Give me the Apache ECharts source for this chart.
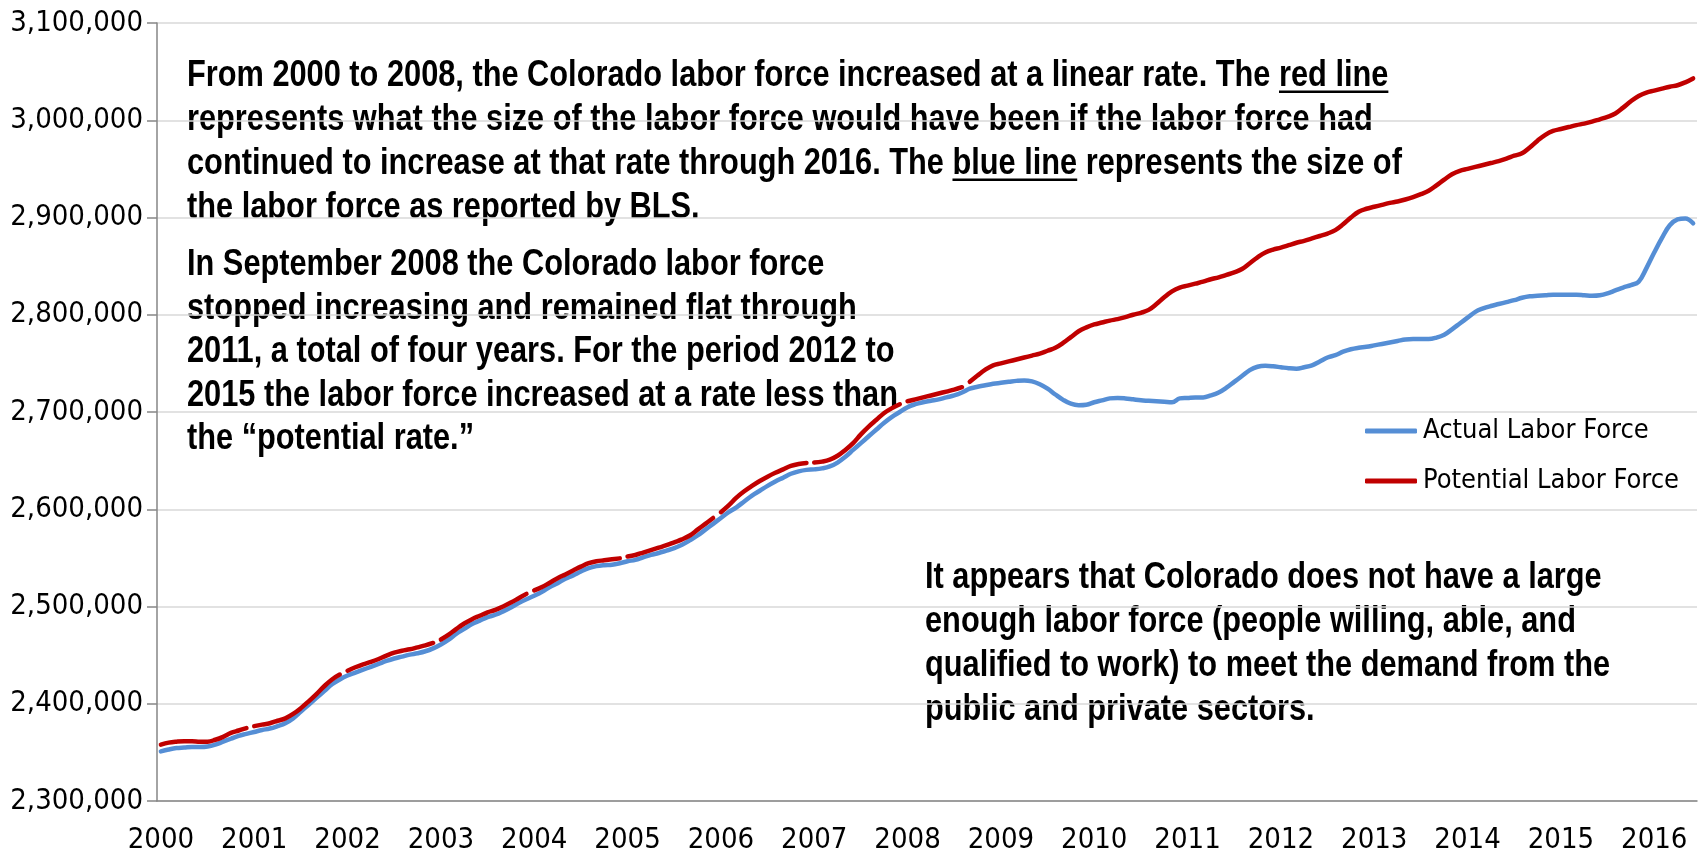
<!DOCTYPE html>
<html>
<head>
<meta charset="utf-8">
<title>Colorado Labor Force</title>
<script src="https://cdn.jsdelivr.net/npm/echarts@6/dist/echarts.min.js"></script>
<style>
  html, body { margin: 0; padding: 0; background: #fff; }
  #chart { width: 1702px; height: 856px; }
</style>
</head>
<body>
<div id="chart"></div>
<script>
// monthly series, Jan 2000 - Jun 2016
const years = ['2000', '2001', '2002', '2003', '2004', '2005', '2006', '2007', '2008',
  '2009', '2010', '2011', '2012', '2013', '2014', '2015', '2016']
const monthNums = ['01', '02', '03', '04', '05', '06', '07', '08', '09', '10', '11', '12']

const actual = [
  2351000, 2353000, 2354500, 2355000, 2355500, 2355500, 2356000, 2358000, 2361000, 2364000, 2367000, 2369000,
  2371000, 2373000, 2374500, 2377000, 2380000, 2385000, 2392000, 2399000, 2406000, 2413000, 2420000, 2425000,
  2429000, 2432000, 2435000, 2438000, 2441000, 2444000, 2446500, 2448500, 2450500, 2452000, 2454000, 2457000,
  2461000, 2466000, 2472000, 2477000, 2482000, 2485500, 2489000, 2491500, 2495000, 2499000, 2503500, 2507500,
  2511000, 2515000, 2520000, 2524000, 2528500, 2532000, 2536000, 2539500, 2541500, 2542500, 2543000, 2544500,
  2546500, 2548000, 2550500, 2553000, 2555000, 2557500, 2560000, 2563500, 2568000, 2573000, 2579000, 2585000,
  2591000, 2597000, 2602000, 2608000, 2614000, 2619000, 2624000, 2628500, 2632500, 2636500, 2639000, 2640500,
  2641000, 2642000, 2644000, 2648000, 2654000, 2661000, 2668000, 2675000, 2682000, 2689000, 2695000, 2700000,
  2705000, 2708000, 2710000, 2711500, 2713000, 2715000, 2717000, 2720000, 2724000, 2726000, 2727500, 2729000,
  2730000, 2731000, 2732000, 2732500, 2731500, 2728500, 2724000, 2718000, 2712500, 2708500, 2707000, 2707500,
  2710000, 2712000, 2714000, 2714500, 2714000, 2713000, 2712000, 2711500, 2711000, 2710500, 2710000, 2714000,
  2714500, 2715000, 2715000, 2717000, 2720000, 2725000, 2731000, 2737000, 2743000, 2746500, 2747500, 2747000,
  2746000, 2745000, 2744500, 2746000, 2748000, 2752000, 2756000, 2758500, 2762000, 2764500, 2766000, 2767000,
  2768500, 2770000, 2771500, 2773000, 2774500, 2775000, 2775000, 2775000, 2776500, 2779500, 2785000, 2791000,
  2797000, 2803000, 2806500, 2809000, 2811000, 2813000, 2815000, 2817500, 2819000, 2819500, 2820000, 2820500,
  2820500, 2820500, 2820500, 2820000, 2819500, 2820000, 2822000, 2825000, 2828000, 2830500, 2834000, 2848000,
  2864000, 2879000, 2892000, 2898000, 2899000, 2894000
]

const potential = [
  2358000, 2360000, 2361000, 2361500, 2361500, 2361000, 2361000, 2363000, 2366000, 2370000, 2372500, 2375000,
  2377000, 2378500, 2380000, 2382500, 2385000, 2389500, 2395500, 2402500, 2410000, 2418000, 2425000, 2430000,
  2434000, 2437500, 2440500, 2443000, 2446000, 2449500, 2452500, 2454500, 2456000, 2458000, 2460000, 2462500,
  2466000, 2471000, 2477000, 2482500, 2487000, 2490500, 2494000, 2496500, 2500000, 2504000, 2508500, 2513000,
  2516500, 2520000, 2524500, 2529000, 2533000, 2537000, 2541000, 2544500, 2546500, 2547500, 2548500, 2549500,
  2551500, 2553000, 2555500, 2558000, 2560500, 2563000, 2566000, 2569000, 2573000, 2579000, 2585000, 2591000,
  2597000, 2604000, 2612000, 2618500, 2624000, 2629000, 2633500, 2637500, 2641000, 2644500, 2646500, 2647500,
  2648000, 2649000, 2651000, 2655000, 2661000, 2668000, 2677000, 2685000, 2692000, 2699000, 2704000, 2708000,
  2711000, 2713000, 2715000, 2717000, 2719000, 2721000, 2723000, 2725500, 2731000, 2737500, 2743500, 2748000,
  2750000, 2752000, 2754000, 2756000, 2758000, 2760000, 2763000, 2766000, 2771000, 2777000, 2783000, 2787000,
  2790000, 2792000, 2794000, 2795500, 2797500, 2800000, 2802000, 2805000, 2811000, 2818000, 2824000, 2828000,
  2830000, 2832000, 2834000, 2836500, 2838500, 2841000, 2843500, 2847000, 2853000, 2859000, 2864000, 2867000,
  2869000, 2871500, 2874000, 2876000, 2878500, 2881000, 2883500, 2887000, 2893000, 2900000, 2906000, 2909000,
  2911000, 2913000, 2915000, 2916500, 2918500, 2921000, 2924000, 2927500, 2933000, 2939000, 2944500, 2948000,
  2950000, 2952000, 2954000, 2956000, 2958000, 2960500, 2963500, 2966000, 2972000, 2979000, 2985000, 2989000,
  2991000, 2993000, 2995000, 2996500, 2998500, 3001000, 3003500, 3007000, 3013000, 3019500, 3025000, 3028500,
  3030500, 3032500, 3034500, 3036000, 3039000, 3043000
]

// the red line is made of separate pieces up to Aug 2008 (small breaks at each year change)
const potentialBreaks = [12, 24, 36, 48, 60, 72, 84, 96, 104]

const notes1 = [
  'From 2000 to 2008, the Colorado labor force increased at a linear rate. The red line',
  'represents what the size of the labor force would have been if the labor force had',
  'continued to increase at that rate through 2016. The blue line represents the size of',
  'the labor force as reported by BLS.'
]
const notes2 = [
  'In September 2008 the Colorado labor force',
  'stopped increasing and remained flat through',
  '2011, a total of four years. For the period 2012 to',
  '2015 the labor force increased at a rate less than',
  'the \u201Cpotential rate.\u201D'
]
const notes3 = [
  'It appears that Colorado does not have a large',
  'enough labor force (people willing, able, and',
  'qualified to work) to meet the demand from the',
  'public and private sectors.'
]

const categories = years.flatMap((y) => monthNums.map((m) => y + '-' + m)).slice(0, actual.length)

const axisFont = "'Liberation Sans Narrow', 'Arial Narrow', 'DejaVu Sans Condensed', sans-serif"
// notes: Arial bold squeezed sideways, close to Arial Narrow Bold
const noteFont = "'Liberation Sans', Arial, sans-serif"
const noteSqueeze = 0.82
const noteSize = 37.5
const axisSize = 29
const legendSize = 27

const ctx = document.createElement('canvas').getContext('2d')
const measure = (text) => {
  ctx.font = 'bold ' + noteSize + 'px ' + noteFont
  return ctx.measureText(text).width
}

// red pieces
const potentialSeries = []
let start = 0
potentialBreaks.concat([potential.length]).forEach((end) => {
  potentialSeries.push({
    name: 'Potential Labor Force',
    type: 'line',
    smooth: 0.4,
    showSymbol: false,
    color: '#C00000',
    lineStyle: { width: 4.5, color: '#C00000', cap: 'round' },
    data: potential.map((v, i) => (i >= start && i < end ? v : null)),
    z: 3
  })
  start = end
})

// underline for "red line" / "blue line" (in unsqueezed coordinates)
const underline = (line, word, y) => {
  const x0 = measure(line.slice(0, line.indexOf(word)))
  const w = measure(word)
  return { type: 'line', shape: { x1: x0, y1: y, x2: x0 + w, y2: y }, style: { stroke: '#000', lineWidth: 2.4 } }
}

const noteGroup = (lines, left, tops, extra) => ({
  type: 'group',
  x: left,
  y: 0,
  scaleX: noteSqueeze,
  children: lines.map((t, i) => ({
    type: 'text',
    x: 0,
    y: tops[i],
    style: { text: t, fill: '#000', fontSize: noteSize, fontWeight: 'bold', fontFamily: noteFont, verticalAlign: 'middle' }
  })).concat(extra || [])
})

const notes1Top = [76, 120, 164, 208]
const notes2Top = [265, 309, 352, 396, 439]
const notes3Top = [578, 622, 666, 710]
const ulOffset = noteSize * 0.42

const chart = echarts.init(document.getElementById('chart'))
chart.setOption({
  animation: false,
  backgroundColor: '#fff',
  textStyle: { fontFamily: axisFont },
  grid: { left: 157, right: 5, top: 23, bottom: 55 },
  legend: {
    orient: 'vertical',
    left: 1360,
    top: 411,
    itemWidth: 52,
    itemHeight: 5,
    itemGap: 20,
    icon: 'roundRect',
    data: ['Actual Labor Force', 'Potential Labor Force'],
    textStyle: { fontSize: legendSize, color: '#000', fontFamily: axisFont, lineHeight: 30, padding: [0, 0, 0, 1] }
  },
  xAxis: {
    type: 'category',
    data: categories,
    boundaryGap: true,
    axisLine: { lineStyle: { color: '#868686', width: 1.5 } },
    axisTick: { interval: 0, length: 8, lineStyle: { color: '#868686', width: 1 } },
    axisLabel: {
      interval: 11,
      margin: 25,
      color: '#000',
      fontSize: axisSize,
      fontFamily: axisFont,
      formatter: (v) => v.slice(0, 4)
    },
    splitLine: { show: false }
  },
  yAxis: {
    type: 'value',
    min: 2300000,
    max: 3100000,
    interval: 100000,
    axisLine: { show: true, lineStyle: { color: '#868686', width: 1.5 } },
    axisTick: { show: true, length: 10, lineStyle: { color: '#868686', width: 1.5 } },
    axisLabel: {
      margin: 14,
      color: '#000',
      fontSize: axisSize,
      fontFamily: axisFont,
      formatter: (v) => v.toLocaleString('en-US')
    },
    splitLine: { lineStyle: { color: '#D9D9D9', width: 1.5 } }
  },
  series: [
    {
      name: 'Actual Labor Force',
      type: 'line',
      smooth: 0.4,
      showSymbol: false,
      color: '#558ED5',
      lineStyle: { width: 4.5, color: '#558ED5', cap: 'round' },
      data: actual,
      z: 2
    }
  ].concat(potentialSeries),
  graphic: [
    noteGroup(notes1, 187, notes1Top, [
      underline(notes1[0], 'red line', notes1Top[0] + ulOffset),
      underline(notes1[2], 'blue line', notes1Top[2] + ulOffset)
    ]),
    noteGroup(notes2, 187, notes2Top),
    noteGroup(notes3, 925, notes3Top)
  ]
})
</script>
</body>
</html>
